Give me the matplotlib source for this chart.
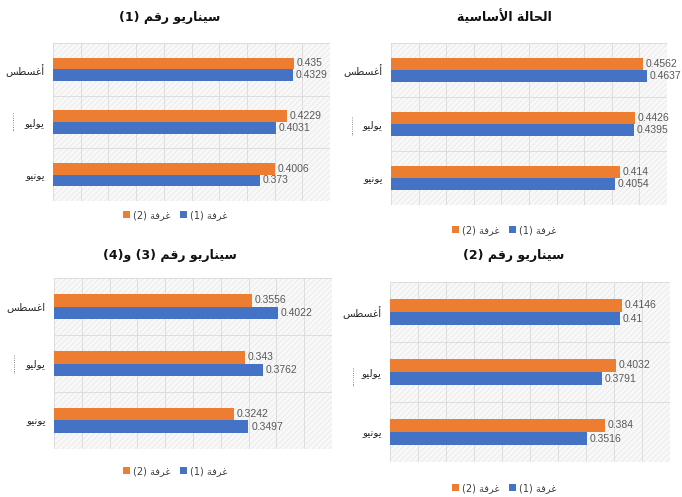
import matplotlib
matplotlib.use("Agg")
import matplotlib.pyplot as plt
from matplotlib.patches import Rectangle, Patch
import numpy as np

# ---------------- data ----------------
months_std = ["أغسطس", "يوليو", "يونيو"]          # top -> bottom
months_alt = ["اغسطس", "يوليو", "يونيو"]
room1_label = "غرفة (1)"
room2_label = "غرفة (2)"

title_base = "الحالة الأساسية"
title_s1 = "سيناريو رقم (1)"
title_s2 = "سيناريو رقم (2)"
title_s34 = "سيناريو رقم (3) و(4)"

base_room2 = [0.4562, 0.4426, 0.4140]
base_room1 = [0.4637, 0.4395, 0.4054]
s1_room2 = [0.4350, 0.4229, 0.4006]
s1_room1 = [0.4329, 0.4031, 0.3730]
s2_room2 = [0.4146, 0.4032, 0.3840]
s2_room1 = [0.4100, 0.3791, 0.3516]
s34_room2 = [0.3556, 0.3430, 0.3242]
s34_room1 = [0.4022, 0.3762, 0.3497]

s1_lab2 = ["0.435", "0.4229", "0.4006"]
s1_lab1 = ["0.4329", "0.4031", "0.373"]
base_lab2 = ["0.4562", "0.4426", "0.414"]
base_lab1 = ["0.4637", "0.4395", "0.4054"]
s2_lab2 = ["0.4146", "0.4032", "0.384"]
s2_lab1 = ["0.41", "0.3791", "0.3516"]
s34_lab2 = ["0.3556", "0.343", "0.3242"]
s34_lab1 = ["0.4022", "0.3762", "0.3497"]

# ---------------- minimal Arabic shaping (visual order) ----------------
FORMS = {
    'ا': ('\uFE8D', '\uFE8E', None, None),
    'أ': ('\uFE83', '\uFE84', None, None),
    'ر': ('\uFEAD', '\uFEAE', None, None),
    'و': ('\uFEED', '\uFEEE', None, None),
    'ة': ('\uFE93', '\uFE94', None, None),
    'س': ('\uFEB1', '\uFEB2', '\uFEB3', '\uFEB4'),
    'ي': ('\uFEF1', '\uFEF2', '\uFEF3', '\uFEF4'),
    'ن': ('\uFEE5', '\uFEE6', '\uFEE7', '\uFEE8'),
    'ق': ('\uFED5', '\uFED6', '\uFED7', '\uFED8'),
    'م': ('\uFEE1', '\uFEE2', '\uFEE3', '\uFEE4'),
    'ل': ('\uFEDD', '\uFEDE', '\uFEDF', '\uFEE0'),
    'ح': ('\uFEA1', '\uFEA2', '\uFEA3', '\uFEA4'),
    'غ': ('\uFECD', '\uFECE', '\uFECF', '\uFED0'),
    'ط': ('\uFEC1', '\uFEC2', '\uFEC3', '\uFEC4'),
    'ف': ('\uFED1', '\uFED2', '\uFED3', '\uFED4'),
}
LAM_ALEF = {'ا': ('\uFEFB', '\uFEFC'), 'أ': ('\uFEF7', '\uFEF8')}


def _dual(c):
    return c in FORMS and FORMS[c][2] is not None


def ar(s):
    out = []
    i, n = 0, len(s)
    while i < n:
        c = s[i]
        if c not in FORMS:
            out.append(c)
            i += 1
            continue
        prev = s[i - 1] if i > 0 else ''
        jp = _dual(prev)
        if c == 'ل' and i + 1 < n and s[i + 1] in LAM_ALEF:
            out.append(LAM_ALEF[s[i + 1]][1 if jp else 0])
            i += 2
            continue
        nxt = s[i + 1] if i + 1 < n else ''
        jn = _dual(c) and nxt in FORMS
        f = FORMS[c]
        if jp and jn:
            g = f[3]
        elif jp:
            g = f[1]
        elif jn:
            g = f[2]
        else:
            g = f[0]
        out.append(g)
        i += 1
    vis = ''.join(reversed(out))
    return vis.translate(str.maketrans('()', ')('))


# ---------------- style ----------------
ORANGE = "#ED7D31"
BLUE = "#4472C4"
GRID = "#d9d9d9"
LABEL_C = "#595959"
plt.rcParams['font.family'] = ['DejaVu Sans']
plt.rcParams['hatch.linewidth'] = 0.4
NUM_FONT = ['Liberation Sans Narrow', 'Liberation Sans']

fig = plt.figure(figsize=(6.82, 4.97), dpi=100)
fig.patch.set_facecolor('white')

panels = [
    # (rect, title, title xy, legend xy, months, r2, r1, lab2, lab1, dots xy)
    ([0.0777, 0.5956, 0.4062, 0.318], title_s1, (170, 17), (175, 215), months_std,
     s1_room2, s1_room1, s1_lab2, s1_lab1, (14, 121)),
    ([0.5733, 0.5875, 0.4047, 0.326], title_base, (504, 17), (504, 230), months_std,
     base_room2, base_room1, base_lab2, base_lab1, (353, 125)),
    ([0.0792, 0.0966, 0.4076, 0.344], title_s34, (170, 255), (175, 471), months_alt,
     s34_room2, s34_room1, s34_lab2, s34_lab1, (15, 363)),
    ([0.5718, 0.0704, 0.4106, 0.362], title_s2, (514, 255), (504, 488), months_std,
     s2_room2, s2_room1, s2_lab2, s2_lab1, (354, 376)),
]

W, H = 682.0, 497.0
bar_h = 0.22

for rect, title, tpos, lpos, months, r2, r1, lab2, lab1, dpos in panels:
    ax = fig.add_axes(rect)
    ax.set_facecolor('white')
    ax.add_patch(Rectangle((0, 0), 1, 1, transform=ax.transAxes, facecolor='#f8f8f8',
                           edgecolor='#e2e2e2', hatch='//////', lw=0, zorder=0))
    y = np.arange(len(months))
    ax.barh(y - bar_h / 2, r2, height=bar_h, color=ORANGE, zorder=3)
    ax.barh(y + bar_h / 2, r1, height=bar_h, color=BLUE, zorder=3)
    for yi, v, t in zip(y, r2, lab2):
        ax.text(v + 0.005, yi - bar_h / 2, t, va='center', ha='left', fontsize=7.5,
                color=LABEL_C, family=NUM_FONT, zorder=4)
    for yi, v, t in zip(y, r1, lab1):
        ax.text(v + 0.005, yi + bar_h / 2, t, va='center', ha='left', fontsize=7.5,
                color=LABEL_C, family=NUM_FONT, zorder=4)
    ax.set_xlim(0, 0.5)
    ax.set_ylim(len(months) - 0.5, -0.5)
    ax.set_xticks(np.arange(0, 0.5001, 0.05))
    ax.set_xticklabels([])
    ax.set_yticks(y)
    ax.set_yticklabels([ar(m) for m in months], fontsize=7.5, color='#262626')
    ax.set_yticks(np.arange(-0.5, len(months), 1.0), minor=True)
    ax.tick_params(axis='both', which='both', length=0)
    ax.tick_params(axis='y', pad=6)
    ax.grid(axis='x', which='major', color=GRID, lw=0.6, zorder=1)
    ax.grid(axis='y', which='minor', color=GRID, lw=0.6, zorder=1)
    for sp in ax.spines.values():
        sp.set_visible(False)
    ax.set_axisbelow(True)

    fig.text(tpos[0] / W, 1 - tpos[1] / H, ar(title), ha='center', va='center',
             fontsize=9, fontweight='bold', color='#111111')
    handles = [Patch(facecolor=ORANGE), Patch(facecolor=BLUE)]
    fig.legend(handles, [ar(room2_label), ar(room1_label)], loc='center',
               bbox_to_anchor=(lpos[0] / W, 1 - lpos[1] / H), ncol=2, frameon=False,
               fontsize=7, handlelength=0.7, handleheight=0.7, handletextpad=0.3,
               columnspacing=1.0, labelcolor='#404040')
    fig.text(dpos[0] / W, 1 - dpos[1] / H, '·' * 9, rotation=90, ha='center',
             va='center', fontsize=5, color='#555555')

fig.savefig("out.png", dpi=100, facecolor='white')
